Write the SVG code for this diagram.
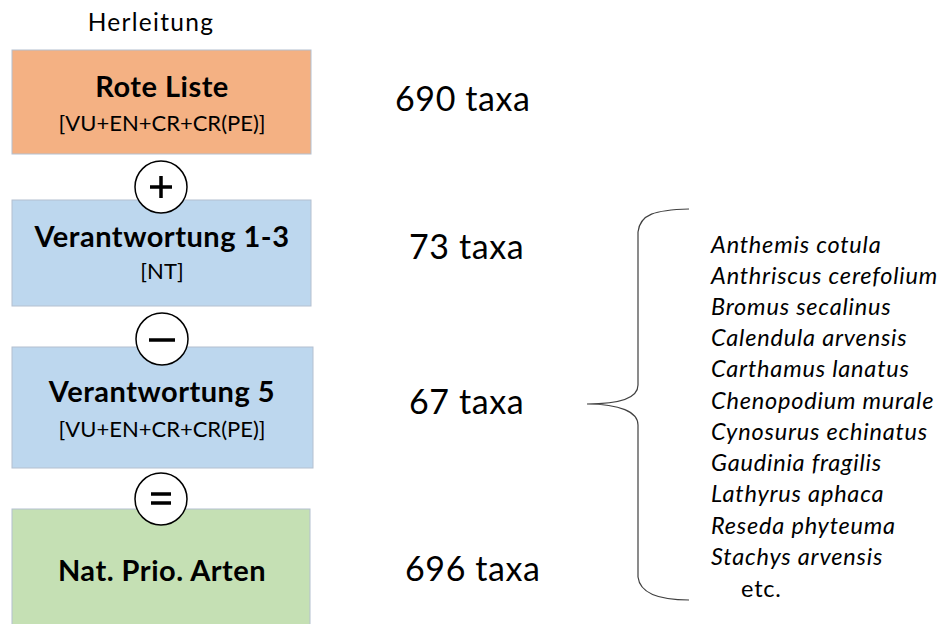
<svg xmlns="http://www.w3.org/2000/svg" width="942" height="624" viewBox="0 0 942 624">
<style>
text{font-family:Lato,"Open Sans","Liberation Sans",sans-serif;fill:#000}
.box{stroke:#b4c0d0;stroke-width:1}
.t{font-size:29px;font-weight:bold;text-anchor:middle;letter-spacing:0.5px}
.s{font-size:22px;text-anchor:middle}
.n{font-size:34px;letter-spacing:0.6px}
.sp{font-size:23.5px;font-style:italic;letter-spacing:0.8px}
.op{fill:#fff;stroke:#000;stroke-width:1.5}
.sym{stroke:#000;stroke-width:3.5;fill:none}
</style>
<rect width="942" height="624" fill="#fff"/>
<text x="151" y="31" style="font-size:24.5px;letter-spacing:1.3px" text-anchor="middle">Herleitung</text>
<g id="rote-liste">
<rect class="box" x="12" y="50" width="299" height="104" fill="#F4B183"/>
<text class="t" x="162" y="97">Rote Liste</text>
<text class="s" x="162" y="131">[VU+EN+CR+CR(PE)]</text>
</g>
<g id="verantwortung13">
<rect class="box" x="12" y="200" width="299" height="106" fill="#BDD7EE"/>
<text class="t" x="162" y="247">Verantwortung 1-3</text>
<text class="s" x="162" y="279">[NT]</text>
</g>
<g id="verantwortung5">
<rect class="box" x="12" y="347" width="301" height="121" fill="#BDD7EE"/>
<text class="t" x="162" y="402">Verantwortung 5</text>
<text class="s" x="162" y="437">[VU+EN+CR+CR(PE)]</text>
</g>
<g id="nat-prio">
<rect class="box" x="12" y="509" width="298" height="120" fill="#C5E0B4"/>
<text class="t" x="162" y="581">Nat. Prio. Arten</text>
</g>
<g id="op-plus">
<circle class="op" cx="161" cy="187" r="26"/>
<path class="sym" d="M150 187H172M161 176V198"/>
</g>
<g id="op-minus">
<circle class="op" cx="162" cy="339" r="26"/>
<path class="sym" d="M149 340H175"/>
</g>
<g id="op-equals">
<circle class="op" cx="161" cy="499" r="26"/>
<path class="sym" d="M151 494H171M151 503H171"/>
</g>
<g id="counts">
<text class="n" x="395" y="111">690 taxa</text>
<text class="n" x="409" y="259">73 taxa</text>
<text class="n" x="409" y="414">67 taxa</text>
<text class="n" x="405" y="581">696 taxa</text>
</g>
<g id="connectors">
<path d="M689 209C655 210 640 214 638 232V385C638 398 620 404 587 404C620 404 638 412 638 425V577C640 594 660 600 689 600" fill="none" stroke="#404040" stroke-width="1.2"/>
</g>
<g id="species">
<text class="sp" x="711" y="253">Anthemis cotula</text>
<text class="sp" x="711" y="284">Anthriscus cerefolium</text>
<text class="sp" x="711" y="315">Bromus secalinus</text>
<text class="sp" x="711" y="346">Calendula arvensis</text>
<text class="sp" x="711" y="377">Carthamus lanatus</text>
<text class="sp" x="711" y="409">Chenopodium murale</text>
<text class="sp" x="711" y="440">Cynosurus echinatus</text>
<text class="sp" x="711" y="471">Gaudinia fragilis</text>
<text class="sp" x="711" y="502">Lathyrus aphaca</text>
<text class="sp" x="711" y="534">Reseda phyteuma</text>
<text class="sp" x="711" y="565">Stachys arvensis</text>
<text x="741" y="597" style="font-size:23.5px;letter-spacing:0.8px">etc.</text>
</g>
</svg>
